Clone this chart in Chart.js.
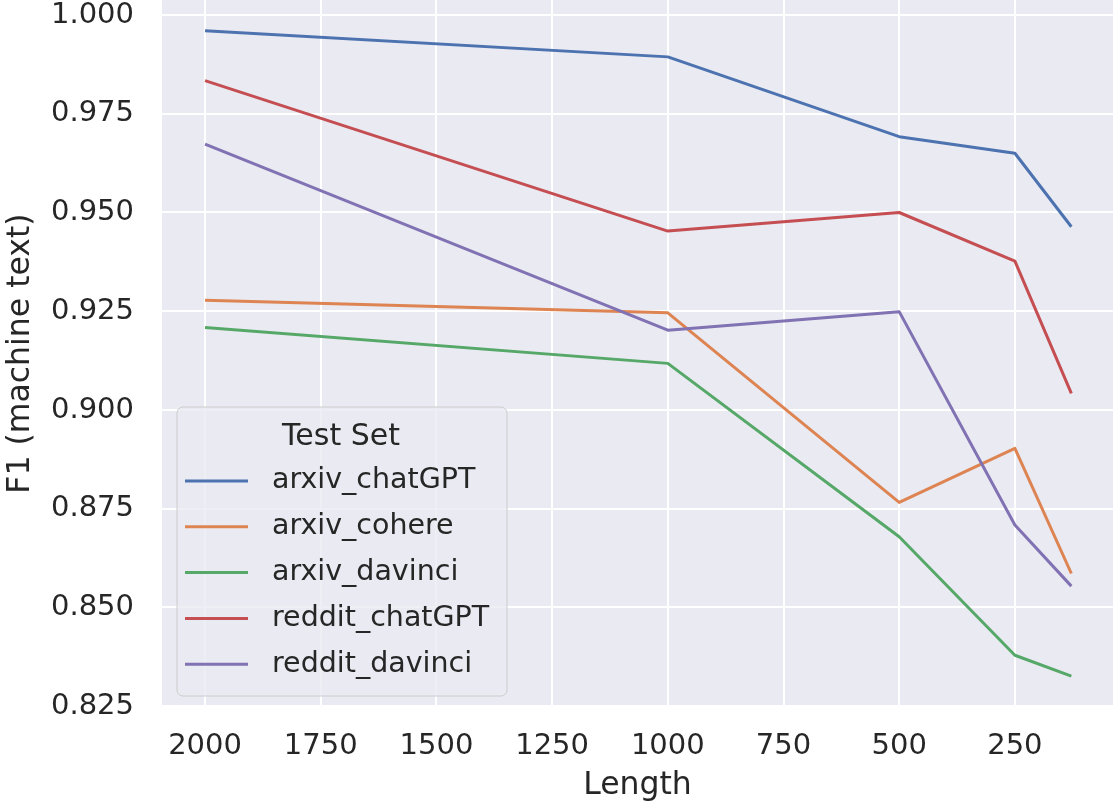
<!DOCTYPE html>
<html>
<head>
<meta charset="utf-8">
<script src="https://cdn.jsdelivr.net/npm/chart.js@4.4.1/dist/chart.umd.min.js"></script>
<style>
  html, body { margin: 0; padding: 0; background: #ffffff; }
</style>
</head>
<body>
<canvas id="chart" width="1113" height="809"></canvas>
<script>
// text lengths on the x axis (axis is reversed, longest first)
var lengths = [2000, 1000, 500, 250, 128];

// F1 on machine text, one array per test set
var arxivChatGPT  = [0.9960, 0.9894, 0.9692, 0.9650, 0.9464];
var arxivCohere   = [0.9278, 0.9246, 0.8766, 0.8903, 0.8586];
var arxivDavinci  = [0.9209, 0.9118, 0.8679, 0.8379, 0.8326];
var redditChatGPT = [0.9834, 0.9453, 0.9500, 0.9377, 0.9042];
var redditDavinci = [0.9673, 0.9202, 0.9249, 0.8709, 0.8554];

var seriesNames  = ['arxiv_chatGPT', 'arxiv_cohere', 'arxiv_davinci', 'reddit_chatGPT', 'reddit_davinci'];
var seriesValues = [arxivChatGPT, arxivCohere, arxivDavinci, redditChatGPT, redditDavinci];
var seriesColors = ['#4C72B0', '#DD8452', '#55A868', '#C44E52', '#8172B3'];

var xTicks = [2000, 1750, 1500, 1250, 1000, 750, 500, 250];
var yTicks = [0.825, 0.850, 0.875, 0.900, 0.925, 0.950, 0.975, 1.000];

var FONT = "'DejaVu Sans', 'Liberation Sans', sans-serif";
var TEXT = '#262626';

// grey plot background like seaborn darkgrid
var plotBg = {
  id: 'plotBg',
  beforeDraw: function(chart) {
    var a = chart.chartArea, ctx = chart.ctx;
    ctx.save();
    ctx.fillStyle = '#EAEAF2';
    ctx.fillRect(a.left, a.top, a.right - a.left, a.bottom - a.top);
    ctx.restore();
  }
};

// legend box in the lower left, drawn over the lines
var boxLegend = {
  id: 'boxLegend',
  afterDraw: function(chart) {
    var a = chart.chartArea, ctx = chart.ctx;
    var w = 330, h = 289;
    var x0 = a.left + 15, y0 = a.bottom - 11 - h;
    var r = 6;
    ctx.save();
    ctx.beginPath();
    ctx.moveTo(x0 + r, y0);
    ctx.arcTo(x0 + w, y0, x0 + w, y0 + h, r);
    ctx.arcTo(x0 + w, y0 + h, x0, y0 + h, r);
    ctx.arcTo(x0, y0 + h, x0, y0, r);
    ctx.arcTo(x0, y0, x0 + w, y0, r);
    ctx.closePath();
    ctx.fillStyle = 'rgba(234,234,242,0.8)';
    ctx.fill();
    ctx.lineWidth = 1;
    ctx.strokeStyle = '#CCCCCC';
    ctx.stroke();

    ctx.fillStyle = TEXT;
    ctx.textBaseline = 'middle';
    ctx.textAlign = 'center';
    ctx.font = '30px ' + FONT;
    ctx.fillText('Test Set', x0 + 164, y0 + 30);

    ctx.textAlign = 'left';
    ctx.font = '28.5px ' + FONT;
    chart.data.datasets.forEach(function(ds, i) {
      var y = y0 + 74 + i * 45.8;
      ctx.beginPath();
      ctx.moveTo(x0 + 8, y);
      ctx.lineTo(x0 + 71, y);
      ctx.lineWidth = 3;
      ctx.strokeStyle = ds.borderColor;
      ctx.stroke();
      ctx.fillText(ds.label, x0 + 95, y);
    });
    ctx.restore();
  }
};

var datasets = seriesNames.map(function(name, i) {
  return {
    label: name,
    data: lengths.map(function(x, j) { return { x: x, y: seriesValues[i][j] }; }),
    borderColor: seriesColors[i],
    backgroundColor: seriesColors[i],
    borderWidth: 3,
    borderJoinStyle: 'round',
    pointRadius: 0,
    tension: 0,
    order: seriesNames.length - i
  };
});

var ctx = document.getElementById('chart').getContext('2d');
var chart = new Chart(ctx, {
  type: 'line',
  data: { datasets: datasets },
  options: {
    responsive: false,
    animation: false,
    devicePixelRatio: 1,
    layout: { padding: 0 },
    plugins: {
      legend: { display: false },
      tooltip: { enabled: false }
    },
    scales: {
      x: {
        type: 'linear',
        reverse: true,
        min: 38,
        max: 2093,
        afterBuildTicks: function(scale) {
          scale.ticks = xTicks.map(function(v) { return { value: v }; });
        },
        afterFit: function(scale) {
          scale.height = 102;
          scale.paddingLeft = 0;
          scale.paddingRight = 0;
        },
        grid: { color: '#ffffff', lineWidth: 2, drawTicks: false },
        border: { display: false },
        ticks: {
          autoSkip: false,
          maxRotation: 0,
          padding: 22,
          color: TEXT,
          font: { family: FONT, size: 29 },
          callback: function(v) { return String(v); }
        },
        title: {
          display: true,
          text: 'Length',
          color: TEXT,
          font: { family: FONT, size: 31.5 },
          padding: { top: 0, bottom: 4 }
        }
      },
      y: {
        type: 'linear',
        min: 0.8248,
        max: 1.0038,
        afterBuildTicks: function(scale) {
          scale.ticks = yTicks.map(function(v) { return { value: v }; });
        },
        afterFit: function(scale) {
          scale.width = 162;
          scale.paddingTop = 0;
          scale.paddingBottom = 0;
        },
        grid: { color: '#ffffff', lineWidth: 2, drawTicks: false },
        border: { display: false },
        ticks: {
          autoSkip: false,
          padding: 28,
          color: TEXT,
          font: { family: FONT, size: 29 },
          callback: function(v) { return v.toFixed(3); }
        },
        title: {
          display: true,
          text: 'F1 (machine text)',
          color: TEXT,
          font: { family: FONT, size: 31.5 },
          padding: { top: 2, bottom: 0 }
        }
      }
    }
  },
  plugins: [plotBg, boxLegend]
});
</script>
</body>
</html>
